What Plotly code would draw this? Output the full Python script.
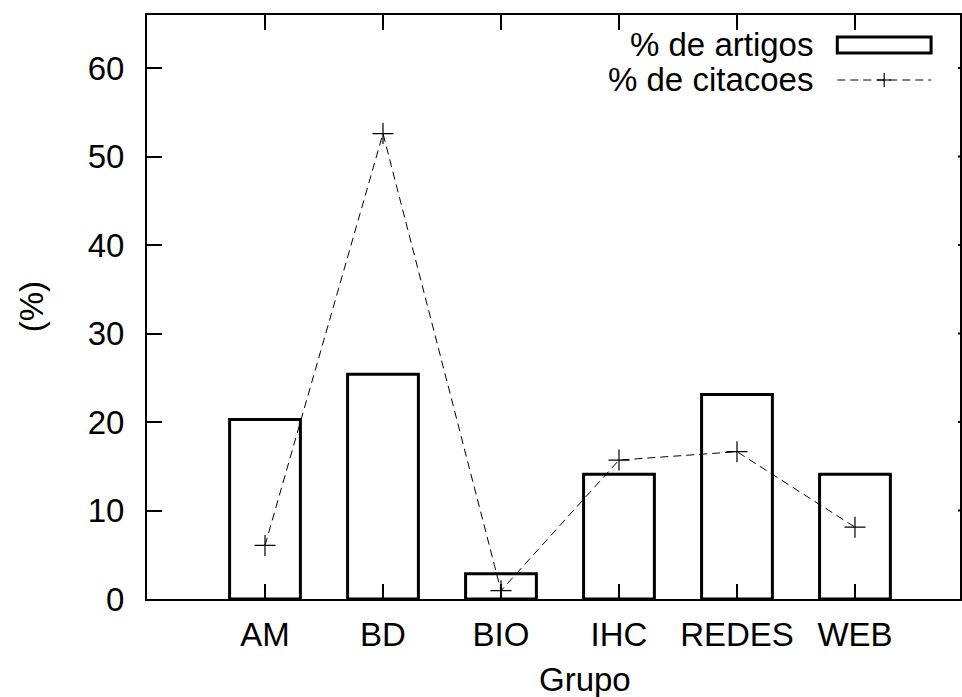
import plotly.graph_objects as go

# ---- data ----
grupos = ["AM", "BD", "BIO", "IHC", "REDES", "WEB"]
artigos = [20.3, 25.4, 2.85, 14.1, 23.1, 14.1]
citacoes = [6.05, 52.6, 0.94, 15.7, 16.65, 8.12]
ytick_vals = [0, 10, 20, 30, 40, 50, 60]
legend_labels = ["% de artigos", "% de citacoes"]
x_title = "Grupo"
y_title = "(%)"

# ---- layout geometry (pixels) ----
W, H = 962, 697
L, T, B = 147, 15, 599          # plot area left / top / bottom
R_FULL = 975                    # right border of the original frame (off-canvas)
TICK = 15
FONT = dict(family="Liberation Sans, Arial, sans-serif", size=33, color="black")

n = len(grupos)
full_span = n + 1               # x from -1 to n
x_right = -1 + full_span * (W - L) / (R_FULL - L)


def px_x(p):
    return (p - L) / (W - L)


def px_y(p):
    return (B - p) / (B - T)


fig = go.Figure()
fig.add_trace(go.Bar(
    x=grupos, y=artigos, width=0.6,
    marker=dict(color="rgba(0,0,0,0)", line=dict(color="black", width=3)),
    showlegend=False,
))
fig.add_trace(go.Scatter(
    x=grupos, y=citacoes, mode="lines+markers",
    line=dict(color="black", width=1, dash="8px,5px"),
    marker=dict(symbol="cross-thin", size=15, line=dict(color="black", width=1.2)),
    showlegend=False,
))

shapes = []
# mirrored y ticks on the (mostly off-canvas) right border
for v in ytick_vals[1:]:
    shapes.append(dict(type="line", xref="paper", yref="y",
                       x0=px_x(R_FULL - TICK), x1=1.0, y0=v, y1=v,
                       line=dict(color="black", width=2)))

annotations = [
    dict(text=x_title, xref="paper", yref="paper", x=px_x(586), y=px_y(679),
         showarrow=False, font=FONT, xanchor="center", yanchor="middle"),
    dict(text=y_title, xref="paper", yref="paper", x=px_x(31), y=px_y(307),
         showarrow=False, font=FONT, textangle=-90, xanchor="center", yanchor="middle"),
]

# legend (text on left, sample on right, gnuplot style)
leg_y = [45, 80]
for lbl, yy in zip(legend_labels, leg_y):
    annotations.append(dict(text=lbl, xref="paper", yref="paper", x=px_x(817), y=px_y(yy),
                            showarrow=False, font=FONT, xanchor="right", yanchor="middle"))
shapes.append(dict(type="rect", xref="paper", yref="paper",
                   x0=px_x(839), x1=px_x(933), y0=px_y(37), y1=px_y(53),
                   line=dict(color="black", width=3), fillcolor="rgba(0,0,0,0)"))
shapes.append(dict(type="line", xref="paper", yref="paper",
                   x0=px_x(839), x1=px_x(933), y0=px_y(leg_y[1]), y1=px_y(leg_y[1]),
                   line=dict(color="black", width=1, dash="8px,5px")))
shapes.append(dict(type="line", xref="paper", yref="paper",
                   x0=px_x(879), x1=px_x(893), y0=px_y(leg_y[1]), y1=px_y(leg_y[1]),
                   line=dict(color="black", width=1.2)))
shapes.append(dict(type="line", xref="paper", yref="paper",
                   x0=px_x(886), x1=px_x(886), y0=px_y(leg_y[1] - 7), y1=px_y(leg_y[1] + 7),
                   line=dict(color="black", width=1.2)))

fig.update_layout(
    width=W, height=H,
    margin=dict(l=L, r=0, t=T, b=H - B, pad=0),
    paper_bgcolor="white", plot_bgcolor="white",
    font=FONT,
    shapes=shapes, annotations=annotations,
    showlegend=False,
)
fig.update_xaxes(
    type="category", range=[-1, x_right],
    showline=True, linecolor="black", linewidth=2, mirror="ticks",
    ticks="inside", ticklen=TICK, tickwidth=2, tickcolor="black",
    showgrid=False, zeroline=False, ticklabelstandoff=5,
    tickfont=FONT,
)
fig.update_yaxes(
    range=[0, 66], tickvals=ytick_vals,
    showline=True, linecolor="black", linewidth=2, mirror=True,
    ticks="inside", ticklen=TICK, tickwidth=2, tickcolor="black",
    showgrid=False, zeroline=False, ticklabelstandoff=14,
    tickfont=FONT,
)

fig.write_html("out.html")
